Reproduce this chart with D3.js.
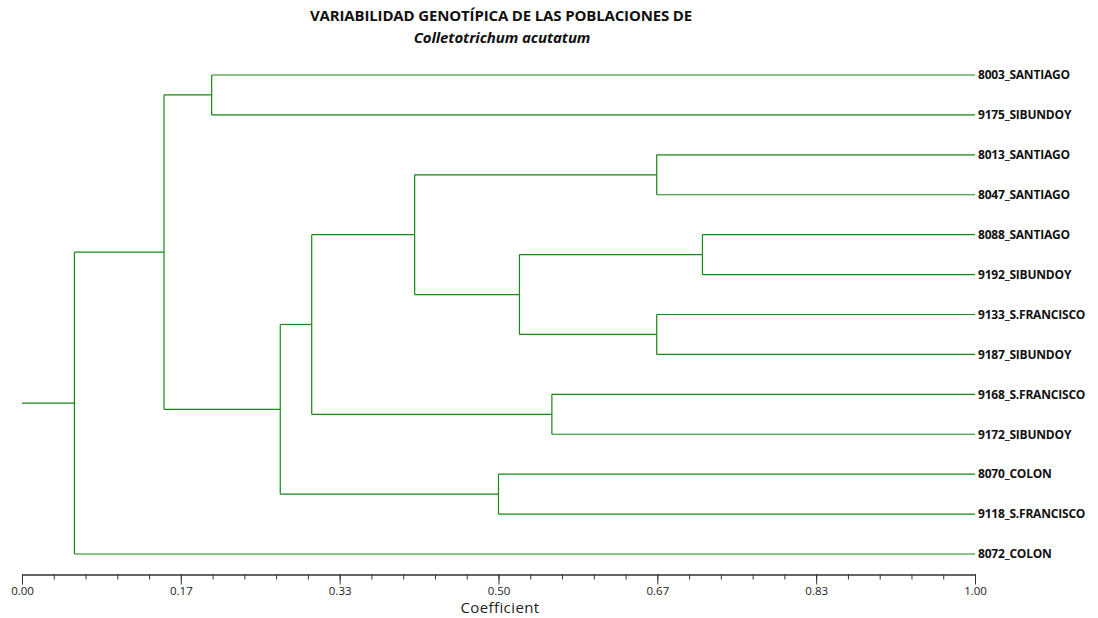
<!DOCTYPE html>
<html>
<head>
<meta charset="utf-8">
<script src="https://cdn.jsdelivr.net/npm/d3@7"></script>
<style>
  body { margin: 0; background: #fff; }
  .link { fill: none; stroke: #138a13; stroke-width: 1.2; }
  .leaf-label { font-family: "Open Sans", sans-serif; font-weight: bold; font-size: 12px; letter-spacing: -0.2px; fill: #111; }
  .axis path, .axis line { stroke: #333; }
  .axis text { font-family: "Open Sans", sans-serif; font-size: 11.5px; fill: #222; }
  .title { font-family: "Open Sans", sans-serif; font-weight: bold; fill: #111; }
</style>
</head>
<body>
<div id="chart"></div>
<script>
// leaves, top to bottom
const leafNames = [
  "8003_SANTIAGO", "9175_SIBUNDOY", "8013_SANTIAGO", "8047_SANTIAGO",
  "8088_SANTIAGO", "9192_SIBUNDOY", "9133_S.FRANCISCO", "9187_SIBUNDOY",
  "9168_S.FRANCISCO", "9172_SIBUNDOY", "8070_COLON", "9118_S.FRANCISCO",
  "8072_COLON"
];

// merge steps: [upper member, lower member, coefficient] -> new cluster id "c1".."c12"
const merges = [
  ["8003_SANTIAGO", "9175_SIBUNDOY", 0.199],
  ["8013_SANTIAGO", "8047_SANTIAGO", 0.666],
  ["8088_SANTIAGO", "9192_SIBUNDOY", 0.714],
  ["9133_S.FRANCISCO", "9187_SIBUNDOY", 0.666],
  ["c3", "c4", 0.522],
  ["c2", "c5", 0.412],
  ["9168_S.FRANCISCO", "9172_SIBUNDOY", 0.556],
  ["c6", "c7", 0.304],
  ["8070_COLON", "9118_S.FRANCISCO", 0.500],
  ["c8", "c9", 0.271],
  ["c1", "c10", 0.149],
  ["c11", "8072_COLON", 0.055]
];

const majorTicks = [0, 1/6, 2/6, 3/6, 4/6, 5/6, 1];
const tickLabels = ["0.00", "0.17", "0.33", "0.50", "0.67", "0.83", "1.00"];
const minorTicks = d3.range(0, 31).map(i => i / 30);

const titleLine1 = "VARIABILIDAD GENOTÍPICA DE LAS POBLACIONES DE";
const titleLine2 = "Colletotrichum acutatum";
const axisTitle = "Coefficient";

const W = 1098, H = 618;
const firstLeafY = 75, lastLeafY = 554, axisY = 574.5;

const svg = d3.select("#chart").append("svg")
  .attr("width", W)
  .attr("height", H);

// build the tree from the merge list
const nodes = {};
leafNames.forEach(n => { nodes[n] = {name: n, coef: 1}; });
merges.forEach((m, i) => {
  nodes[`c${i + 1}`] = {name: `c${i + 1}`, coef: m[2], children: [nodes[m[0]], nodes[m[1]]]};
});
const rootData = nodes[`c${merges.length}`];

const root = d3.hierarchy(rootData);
d3.cluster()
  .size([1, 1])
  .separation(() => 1)(root);

// cluster pads half a slot at each end; map first/last leaf to the plot edges
const leaves = root.leaves();
const yScale = d3.scaleLinear()
  .domain([leaves[0].x, leaves[leaves.length - 1].x])
  .range([firstLeafY, lastLeafY]);

const x = d3.scaleLinear().domain([0, 1]).range([22, 975]);
const y = d => yScale(d.x);

const g = svg.append("g");

// root stem
g.append("path")
  .attr("class", "link")
  .attr("d", `M${x(0)},${y(root)}H${x(root.data.coef)}`);

// horizontal branches
g.selectAll(".hlink")
  .data(root.descendants().filter(d => d.parent))
  .join("path")
    .attr("class", "link hlink")
    .attr("d", d => `M${x(d.parent.data.coef)},${y(d)}H${x(d.data.coef)}`);

// vertical joins
g.selectAll(".vlink")
  .data(root.descendants().filter(d => d.children))
  .join("path")
    .attr("class", "link vlink")
    .attr("d", d => `M${x(d.data.coef)},${y(d.children[0])}V${y(d.children[d.children.length - 1])}`);

// leaf labels
g.selectAll(".leaf-label")
  .data(leaves)
  .join("text")
    .attr("class", "leaf-label")
    .attr("x", x(1) + 3)
    .attr("y", d => y(d))
    .attr("dy", "0.36em")
    .text(d => d.data.name);

// axis: minor ticks, then major ticks with labels
svg.append("g")
  .attr("class", "axis")
  .attr("transform", `translate(0,${axisY})`)
  .call(d3.axisBottom(x).tickValues(minorTicks).tickSize(5).tickSizeOuter(0).tickFormat(""));

svg.append("g")
  .attr("class", "axis")
  .attr("transform", `translate(0,${axisY})`)
  .call(d3.axisBottom(x).tickValues(majorTicks).tickSize(10).tickSizeOuter(0).tickPadding(2)
    .tickFormat((d, i) => tickLabels[i]));

svg.append("text")
  .attr("x", 500)
  .attr("y", 613)
  .attr("text-anchor", "middle")
  .style("font-family", "'Open Sans', sans-serif")
  .style("font-size", "15px")
  .style("letter-spacing", "0.4px")
  .style("fill", "#222")
  .text(axisTitle);

// title
svg.append("text")
  .attr("class", "title")
  .attr("x", 501)
  .attr("y", 20.5)
  .attr("text-anchor", "middle")
  .style("font-size", "15px")
  .style("letter-spacing", "-0.15px")
  .text(titleLine1);

svg.append("text")
  .attr("class", "title")
  .attr("x", 502)
  .attr("y", 43)
  .attr("text-anchor", "middle")
  .style("font-size", "15px")
  .style("font-style", "italic")
  .style("letter-spacing", "-0.1px")
  .text(titleLine2);
</script>
</body>
</html>
